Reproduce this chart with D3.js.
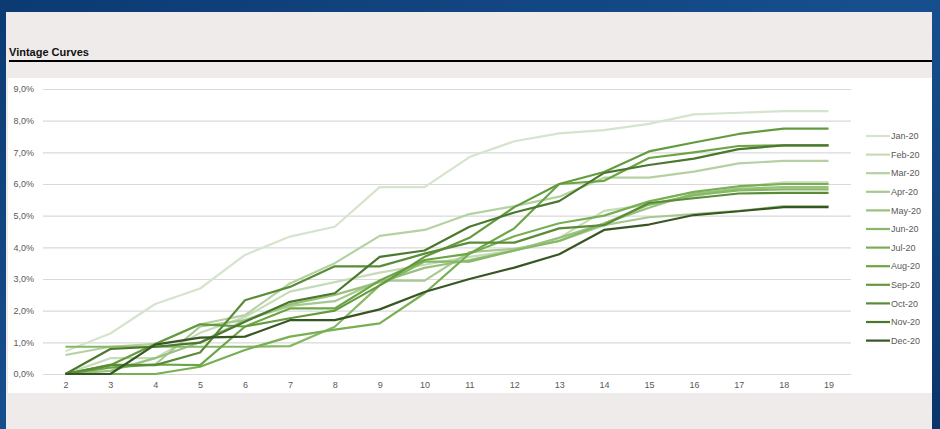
<!DOCTYPE html>
<html>
<head>
<meta charset="utf-8">
<script src="https://cdn.jsdelivr.net/npm/d3@7"></script>
<style>
  body { margin: 0; background: #0d3b73; }
  svg { display: block; }
</style>
</head>
<body>
<div id="chart"></div>
<script>
// months on book
var periods = ["2","3","4","5","6","7","8","9","10","11","12","13","14","15","16","17","18","19"];
var vintages = ["Jan-20","Feb-20","Mar-20","Apr-20","May-20","Jun-20","Jul-20","Aug-20","Sep-20","Oct-20","Nov-20","Dec-20"];
var colors = ["#d5e4cc","#c6dbb8","#b5d1a3","#a7c991","#98c17e","#86b866","#78af53","#6ca545","#639a3f","#5a8c38","#4a782d","#375623"];

// loss rate in %
var jan20 = [0.72,1.28,2.21,2.7,3.76,4.34,4.65,5.9,5.9,6.85,7.35,7.6,7.7,7.9,8.2,8.25,8.3,8.3];
var feb20 = [0,0.5,0.5,1.3,1.8,2.6,2.9,3.2,3.45,3.7,3.9,4.3,5.15,5.35,5.6,5.9,6.05,6.05];
var mar20 = [0.6,0.86,0.95,1.57,1.86,2.86,3.5,4.36,4.55,5.05,5.3,5.6,6.2,6.2,6.39,6.65,6.73,6.73];
var apr20 = [0,0.3,0.3,1.5,1.7,2.15,2.3,2.95,2.95,3.85,3.95,4.2,4.7,4.95,5.05,5.15,5.3,5.3];
var may20 = [0,0.1,0.5,1.0,1.7,2.2,2.5,2.9,3.35,3.6,3.9,4.3,4.75,5.25,5.7,5.85,5.9,5.9];
var jun20 = [0.86,0.86,0.86,0.86,0.86,0.88,1.49,2.8,3.55,3.55,3.9,4.2,4.75,5.35,5.65,5.8,5.83,5.83];
var jul20 = [0,0,0,0.23,0.76,1.18,1.4,1.6,2.55,3.8,4.35,4.76,5.0,5.45,5.75,5.93,6.0,6.0];
var aug20 = [0,0.2,0.3,0.28,1.5,2.07,2.07,2.95,3.6,3.8,4.6,6.0,6.1,6.82,7.0,7.2,7.22,7.22];
var sep20 = [0,0.28,0.95,1.57,1.5,1.76,2.0,2.8,3.7,4.3,5.27,6.0,6.38,7.03,7.31,7.58,7.75,7.75];
var oct20 = [0,0.28,0.28,0.68,2.33,2.75,3.4,3.4,3.8,4.15,4.15,4.6,4.7,5.4,5.55,5.7,5.72,5.72];
var nov20 = [0,0.79,0.86,0.99,1.65,2.28,2.55,3.7,3.9,4.65,5.1,5.46,6.35,6.6,6.8,7.1,7.22,7.22];
var dec20 = [0,0,0.93,1.15,1.18,1.7,1.7,2.04,2.59,3.0,3.36,3.78,4.55,4.72,5.02,5.14,5.27,5.27];

var yTicks = [0,1,2,3,4,5,6,7,8,9];

var series = [jan20,feb20,mar20,apr20,may20,jun20,jul20,aug20,sep20,oct20,nov20,dec20].map(function (vals, i) {
  return { name: vintages[i], color: colors[i], values: vals };
});

var width = 940, height = 429;

var svg = d3.select("#chart").append("svg")
  .attr("width", width)
  .attr("height", height);

// background frame
var grad = svg.append("defs").append("linearGradient")
  .attr("id", "bg").attr("x1", "0").attr("y1", "0").attr("x2", "1").attr("y2", "1");
grad.append("stop").attr("offset", "0%").attr("stop-color", "#0c3a72");
grad.append("stop").attr("offset", "50%").attr("stop-color", "#174f8e");
grad.append("stop").attr("offset", "100%").attr("stop-color", "#0b356a");
svg.append("rect").attr("width", width).attr("height", height).attr("fill", "url(#bg)");

// panel
svg.append("rect").attr("x", 6).attr("y", 12).attr("width", 926).attr("height", 417).attr("fill", "#efebea");
svg.append("rect").attr("x", 8).attr("y", 78).attr("width", 924).attr("height", 315).attr("fill", "#ffffff");

svg.append("text")
  .attr("x", 9).attr("y", 56)
  .style("font-family", "'Liberation Sans', Arial, sans-serif")
  .style("font-weight", "bold")
  .style("font-size", "11px")
  .style("fill", "#111")
  .text("Vintage Curves");

svg.append("line")
  .attr("x1", 9).attr("x2", 932).attr("y1", 61).attr("y2", 61)
  .attr("stroke", "#000").attr("stroke-width", 2);

var x = d3.scalePoint().domain(periods).range([43, 851]).padding(0.5);
var y = d3.scaleLinear().domain([0, 9]).range([374, 89]);

var fmt = function (d) { return d.toFixed(1).replace(".", ",") + "%"; };

// gridlines
svg.append("g").selectAll("line").data(yTicks).enter().append("line")
  .attr("x1", 43).attr("x2", 851)
  .attr("y1", function (d) { return y(d) + 0.5; })
  .attr("y2", function (d) { return y(d) + 0.5; })
  .attr("stroke", "#d9d9d9").attr("stroke-width", 1.2);

var yAxis = svg.append("g")
  .attr("transform", "translate(34,0)")
  .call(d3.axisLeft(y).tickValues(yTicks).tickFormat(fmt).tickSize(0).tickPadding(0));
yAxis.select(".domain").remove();
yAxis.selectAll("text")
  .style("font-family", "'Liberation Sans', Arial, sans-serif")
  .style("font-size", "9px")
  .style("fill", "#595959");

var xAxis = svg.append("g")
  .attr("transform", "translate(0,374)")
  .call(d3.axisBottom(x).tickSize(0).tickPadding(8));
xAxis.select(".domain").remove();
xAxis.selectAll("text")
  .style("font-family", "'Liberation Sans', Arial, sans-serif")
  .style("font-size", "9px")
  .style("fill", "#595959");

var line = d3.line()
  .x(function (d, i) { return x(periods[i]); })
  .y(function (d) { return y(d); });

svg.append("g").selectAll("path").data(series).enter().append("path")
  .attr("d", function (d) { return line(d.values); })
  .attr("fill", "none")
  .attr("stroke", function (d) { return d.color; })
  .attr("stroke-width", 2.2)
  .attr("stroke-linejoin", "round");

// legend
var legend = svg.append("g").selectAll("g").data(series).enter().append("g")
  .attr("transform", function (d, i) { return "translate(866," + (136 + i * 18.6) + ")"; });

legend.append("line")
  .attr("x1", 0).attr("x2", 24)
  .attr("stroke", function (d) { return d.color; })
  .attr("stroke-width", 2.2);

legend.append("text")
  .attr("x", 25).attr("dy", "0.35em")
  .style("font-family", "'Liberation Sans', Arial, sans-serif")
  .style("font-size", "9px")
  .style("fill", "#595959")
  .text(function (d) { return d.name; });
</script>
</body>
</html>
